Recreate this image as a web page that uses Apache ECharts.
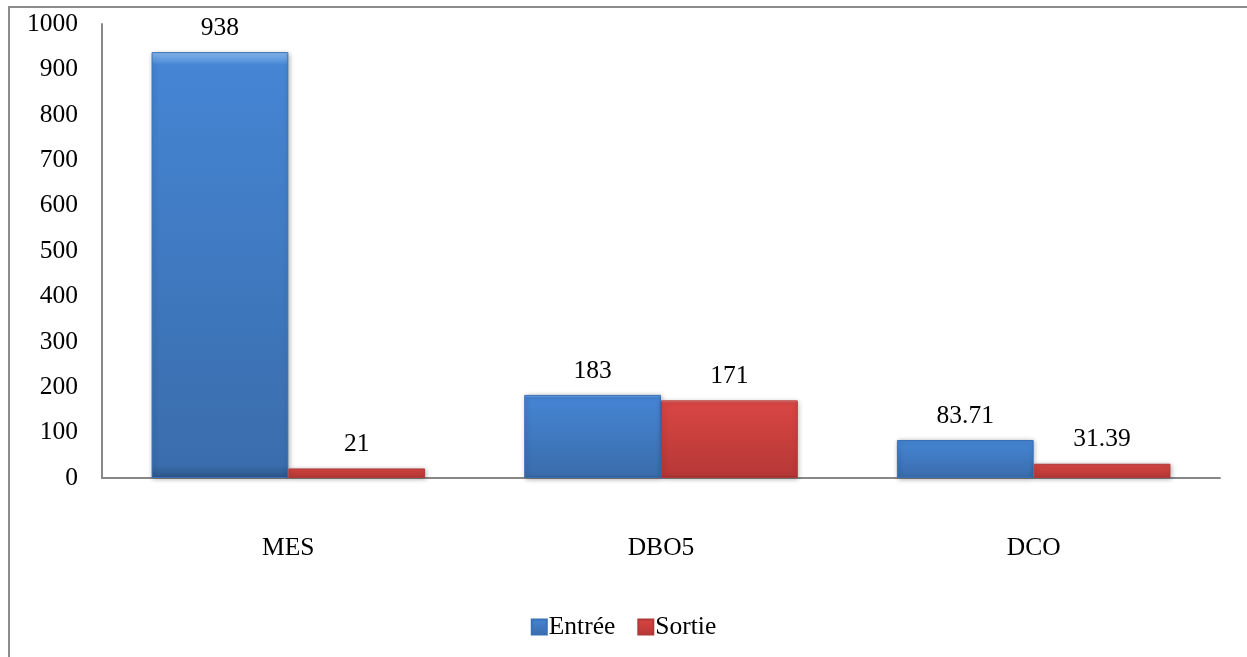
<!DOCTYPE html>
<html style="height: 100%">
<head>
<meta charset="utf-8">
</head>
<body style="height: 100%; margin: 0; background: #fff">
	<div id="container" style="width: 1247px; height: 657px"></div>
	<script type="text/javascript" src="https://cdn.jsdelivr.net/npm/echarts@6/dist/echarts.min.js"></script>
	<script type="text/javascript">
		var categories = ['MES', 'DBO5', 'DCO'];
		var entree = [938, 183, 83.71];
		var sortie = [21, 171, 31.39];
		var yTicks = { min: 0, max: 1000, interval: 100 };

		var font = '"Liberation Serif", "DejaVu Serif", serif';
		var fs = 25.5;
		var myChart = echarts.init(document.getElementById('container'));

		function bevel(light, main, low, dark) {
			return new echarts.graphic.LinearGradient(0, 0, 0, 1, [
				{ offset: 0, color: light },
				{ offset: 0.03, color: main },
				{ offset: 0.97, color: low },
				{ offset: 1, color: dark }
			]);
		}

		var option = {
			animation: false,
			textStyle: { fontFamily: font },
			graphic: [{
				type: 'rect',
				shape: { x: 9, y: 7, width: 1260, height: 700 },
				style: { fill: 'none', stroke: '#8c8c8c', lineWidth: 2 }
			}],
			grid: { left: 102, right: 27, top: 24, bottom: 179 },
			legend: {
				data: ['Entrée', 'Sortie'],
				left: 'center',
				top: 609,
				itemWidth: 15,
				itemHeight: 15,
				itemGap: 22,
				icon: 'rect',
				textStyle: { fontFamily: font, fontSize: fs, color: '#000', padding: [0, 0, 0, -3] }
			},
			xAxis: {
				type: 'category',
				data: categories,
				axisLine: { lineStyle: { color: '#888', width: 2 } },
				axisTick: { show: false },
				axisLabel: { color: '#000', fontSize: fs, fontFamily: font, margin: 57 }
			},
			yAxis: {
				type: 'value',
				min: yTicks.min,
				max: yTicks.max,
				interval: yTicks.interval,
				axisLine: { show: true, lineStyle: { color: '#888', width: 2 } },
				axisTick: { show: false },
				splitLine: { show: false },
				axisLabel: { color: '#000', fontSize: fs, fontFamily: font, margin: 24, formatter: function (v) { return String(v); } }
			},
			series: [{
				name: 'Entrée',
				type: 'bar',
				data: entree,
				barWidth: '36.7%',
				barGap: '0%',
				itemStyle: {
					color: bevel('#8cbcf2', '#4585d4', '#3a6dac', '#2c5688'),
					borderColor: '#3a70b5',
					borderWidth: 1,
					shadowColor: 'rgba(0,0,0,0.3)',
					shadowBlur: 5,
					shadowOffsetX: 1,
					shadowOffsetY: 1
				},
				label: { show: true, position: 'top', distance: 11, color: '#000', fontSize: fs, fontFamily: font }
			}, {
				name: 'Sortie',
				type: 'bar',
				data: sortie,
				barWidth: '36.7%',
				itemStyle: {
					color: bevel('#f49a97', '#d84643', '#b63836', '#862624'),
					borderColor: '#b03a38',
					borderWidth: 1,
					shadowColor: 'rgba(0,0,0,0.3)',
					shadowBlur: 5,
					shadowOffsetX: 1,
					shadowOffsetY: 1
				},
				label: { show: true, position: 'top', distance: 11, color: '#000', fontSize: fs, fontFamily: font }
			}]
		};
		myChart.setOption(option);
	</script>
</body>
</html>
